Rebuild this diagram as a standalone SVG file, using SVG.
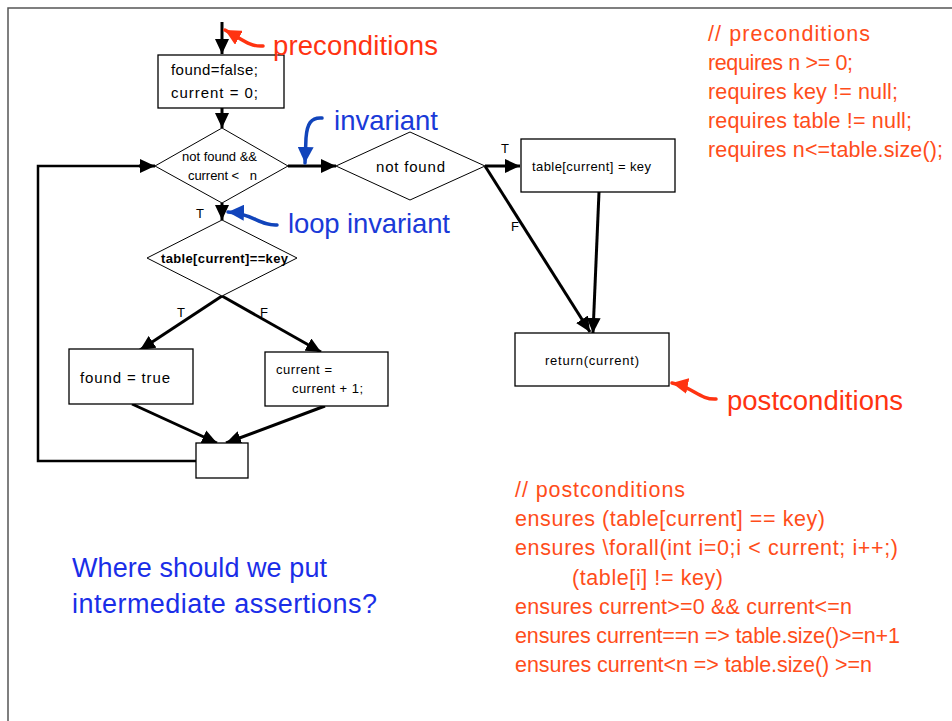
<svg xmlns="http://www.w3.org/2000/svg" width="952" height="721" viewBox="0 0 952 721">
  <defs>
    <marker id="ah" markerUnits="userSpaceOnUse" markerWidth="16" markerHeight="14" refX="15" refY="7" orient="auto">
      <path d="M0,0 L15,7 L0,14 Z" fill="#000"/>
    </marker>
    <marker id="ahRed" markerUnits="userSpaceOnUse" markerWidth="18" markerHeight="16" refX="16" refY="8" orient="auto">
      <path d="M0,0 L16,8 L0,16 Z" fill="#ff3311"/>
    </marker>
    <marker id="ahBlue" markerUnits="userSpaceOnUse" markerWidth="18" markerHeight="16" refX="16" refY="8" orient="auto">
      <path d="M0,0 L16,8 L0,16 Z" fill="#1144bb"/>
    </marker>
  </defs>
  <style>
    text { font-family: "Liberation Sans", Arial, sans-serif; }
    .box { fill: #fff; stroke: #000; stroke-width: 1.3; }
    .dia { fill: #fff; stroke: #000; stroke-width: 1; }
    .lbl { font-size: 15px; fill: #000; }
    .sm { font-size: 13px; fill: #000; }
    .tf { font-size: 13px; fill: #000; }
    .edge { fill: none; stroke: #000; stroke-width: 3; marker-end: url(#ah); }
    .loop { fill: none; stroke: #000; stroke-width: 2.5; }
    .callR { fill: none; stroke: #ff3311; stroke-width: 3.5; stroke-linecap: round; marker-end: url(#ahRed); }
    .callB { fill: none; stroke: #1144bb; stroke-width: 3.5; stroke-linecap: round; marker-end: url(#ahBlue); }
    .bigR { font-size: 27.5px; fill: #ff3311; }
    .bigB { font-size: 27.5px; fill: #1a3ad8; }
    .cond { font-size: 21.5px; fill: #ff4d1a; }
    .ask { font-size: 27px; fill: #1a2ee8; }
  </style>

  <!-- page frame -->
  <path d="M8,721 L8,8 L952,8" fill="none" stroke="#555" stroke-width="1.5"/>

  <!-- connectors -->
  <g id="connectors">
    <path class="edge" d="M222,22 L222,54"/>
    <path class="edge" d="M222,108 L222,128"/>
    <path class="edge" d="M222,203 L222,220"/>
    <path class="edge" d="M288,166 L336,166"/>
    <path class="edge" d="M485,166 L520,166"/>
    <path class="edge" d="M485,166 L590,332"/>
    <path class="edge" d="M599,192 L593,333"/>
    <path class="edge" d="M222,296 L140,350"/>
    <path class="edge" d="M222,296 L321,352"/>
    <path class="edge" d="M132,404 L217,443"/>
    <path class="edge" d="M325,406 L226,443"/>
    <path class="loop" d="M196,461 L38,461 L38,166 L140,166"/>
    <path class="edge" d="M139,166 L155,166"/>
    <text class="tf" x="196" y="218">T</text>
    <text class="tf" x="501" y="153">T</text>
    <text class="tf" x="511" y="231">F</text>
    <text class="tf" x="177" y="317">T</text>
    <text class="tf" x="260" y="317">F</text>
  </g>

  <!-- initialisation -->
  <g id="init">
    <rect class="box" x="158" y="55" width="126" height="53"/>
    <text class="lbl" x="171" y="75" textLength="87">found=false;</text>
    <text class="lbl" x="171" y="98" textLength="87">current = 0;</text>
  </g>

  <!-- loop condition -->
  <g id="loopCond">
    <polygon class="dia" points="222,128 288,166 222,203 155,166"/>
    <text class="sm" x="182" y="161" textLength="75">not found &amp;&amp;</text>
    <text class="sm" x="188" y="180" xml:space="preserve" textLength="69">current &lt;   n</text>
  </g>

  <!-- exit test -->
  <g id="exitTest">
    <polygon class="dia" points="336,166 410,132 485,166 410,200"/>
    <text class="lbl" x="376" y="172" textLength="69">not found</text>
  </g>

  <!-- found branch result -->
  <g id="foundBox">
    <rect class="box" x="521" y="139" width="154" height="53"/>
    <text class="sm" x="532" y="171" font-size="14" textLength="119">table[current] = key</text>
  </g>

  <!-- return -->
  <g id="returnBox">
    <rect class="box" x="515" y="333" width="154" height="53"/>
    <text class="sm" x="545" y="365" font-size="14" textLength="94">return(current)</text>
  </g>

  <!-- element test -->
  <g id="elemTest">
    <polygon class="dia" points="222,220 297,258 222,296 147,258"/>
    <text class="sm" x="161" y="263" font-weight="bold" textLength="127">table[current]==key</text>
  </g>

  <!-- set found -->
  <g id="setFound">
    <rect class="box" x="69" y="349" width="124" height="55"/>
    <text class="lbl" x="80" y="383" font-size="16" textLength="90">found = true</text>
  </g>

  <!-- increment -->
  <g id="increment">
    <rect class="box" x="265" y="352" width="123" height="54"/>
    <text class="sm" x="276" y="374" textLength="56">current =</text>
    <text class="sm" x="292" y="393" textLength="71">current + 1;</text>
  </g>

  <!-- join -->
  <g id="join">
    <rect class="box" x="196" y="443" width="52" height="35"/>
  </g>

  <!-- callouts -->
  <g id="callouts">
    <path class="callR" d="M263,46 C250,47 243,40 225,30"/>
    <text class="bigR" x="273" y="55" textLength="165">preconditions</text>

    <path class="callB" d="M322,118 C311,117 307,124 306,138 L305,163"/>
    <text class="bigB" x="334" y="130" textLength="104">invariant</text>

    <path class="callB" d="M277,225 C260,226 252,213 228,212"/>
    <text class="bigB" x="288" y="233" textLength="162">loop invariant</text>

    <path class="callR" d="M716,399 C700,400 693,387 672,383"/>
    <text class="bigR" x="727" y="410" textLength="176">postconditions</text>
  </g>

  <!-- contract text -->
  <g id="preconditions">
    <text class="cond" x="708" y="41" textLength="162">// preconditions</text>
    <text class="cond" x="708" y="70" textLength="145">requires n &gt;= 0;</text>
    <text class="cond" x="708" y="99" textLength="190">requires key != null;</text>
    <text class="cond" x="708" y="128" textLength="204">requires table != null;</text>
    <text class="cond" x="708" y="157" textLength="235">requires n&lt;=table.size();</text>
  </g>

  <g id="postconditions">
    <text class="cond" x="515" y="497" textLength="170">// postconditions</text>
    <text class="cond" x="515" y="526" textLength="310">ensures (table[current] == key)</text>
    <text class="cond" x="515" y="555" textLength="383">ensures \forall(int i=0;i &lt; current; i++;)</text>
    <text class="cond" x="572" y="585" textLength="151">(table[i] != key)</text>
    <text class="cond" x="515" y="614" textLength="337">ensures current&gt;=0 &amp;&amp; current&lt;=n</text>
    <text class="cond" x="515" y="643" textLength="385">ensures current==n =&gt; table.size()&gt;=n+1</text>
    <text class="cond" x="515" y="672" textLength="357">ensures current&lt;n =&gt; table.size() &gt;=n</text>
  </g>

  <g id="question">
    <text class="ask" x="72" y="577" textLength="255">Where should we put</text>
    <text class="ask" x="72" y="613" textLength="305">intermediate assertions?</text>
  </g>
</svg>
